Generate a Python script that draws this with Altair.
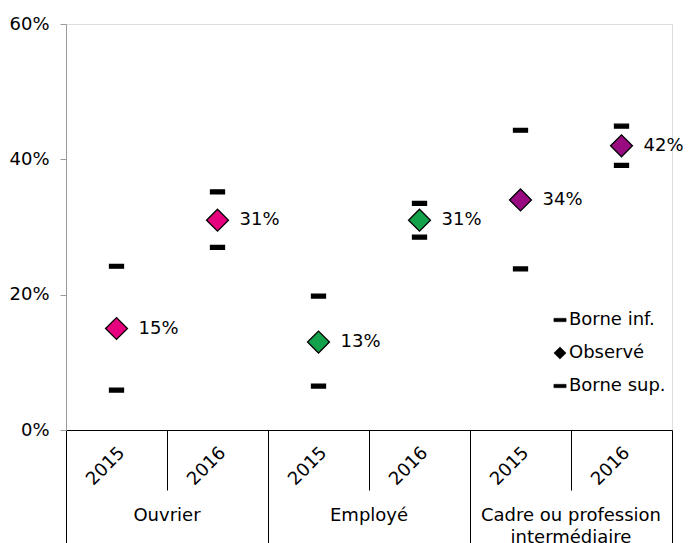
import altair as alt
import pandas as pd

groups = ["Ouvrier", "Employé", "Cadre ou profession\nintermédiaire"]
years = ["2015", "2016"]
observed = [15, 31, 13, 31, 34, 42]
lower = [5.9, 27.0, 6.5, 28.5, 23.8, 39.1]
upper = [24.2, 35.2, 19.8, 33.5, 44.3, 44.9]
group_colors = ["#E6007E", "#13A24B", "#990B80"]
series_names = ["Borne inf.", "Observé", "Borne sup."]
y_ticks = [0, 20, 40, 60]

FONT = "DejaVu Sans"
FS = 18

rows = []
for i, v in enumerate(observed):
    g = groups[i // 2]
    y = years[i % 2]
    pos = i + 0.5
    rows.append({"pos": pos, "group": g, "year": y, "serie": "Borne inf.", "value": upper[i], "ckey": "bound", "label": ""})
    rows.append({"pos": pos, "group": g, "year": y, "serie": "Borne sup.", "value": lower[i], "ckey": "bound", "label": ""})
    rows.append({"pos": pos, "group": g, "year": y, "serie": "Observé", "value": v, "ckey": g, "label": f"{v}%"})
df = pd.DataFrame(rows)

obs_df = df[df["serie"] == "Observé"]
years_df = pd.DataFrame({"pos": [i + 0.5 for i in range(6)], "year": [years[i % 2] for i in range(6)]})
groups_df = pd.DataFrame({"pos": [1.0, 3.0, 5.0], "group": groups})

bar_path = "M-1,-0.28H1V0.28H-1Z"

x_scale = alt.Scale(domain=[0, 6], nice=False, zero=False)
y_scale = alt.Scale(domain=[0, 60], nice=False)

x_enc = alt.X("pos:Q", scale=x_scale,
              axis=alt.Axis(values=list(range(7)), labels=False, title=None, grid=False,
                            domainColor="black", domainWidth=1.2, tickColor="black", tickWidth=1,
                            tickSize=alt.condition("datum.value % 2 == 0", alt.value(113), alt.value(60))))
y_enc = alt.Y("value:Q", scale=y_scale,
              axis=alt.Axis(values=y_ticks, title=None, grid=False, domainColor="#9a9a9a",
                            tickColor="#9a9a9a", tickSize=6, labelExpr="datum.value + '%'",
                            labelFont=FONT, labelFontSize=FS, labelColor="black", labelPadding=11))

points = alt.Chart(df).mark_point(filled=True, stroke="black", strokeWidth=1.3, opacity=1).encode(
    x=x_enc,
    y=y_enc,
    shape=alt.Shape("serie:N", scale=alt.Scale(domain=series_names, range=[bar_path, "diamond", bar_path]),
                    legend=alt.Legend(title=None, orient="none", legendX=485, legendY=287,
                                      labelFont=FONT, labelFontSize=FS, labelColor="black",
                                      symbolSize=150, symbolFillColor="black", symbolStrokeColor="black",
                                      symbolStrokeWidth=0.5, rowPadding=15, labelOffset=0, padding=0)),
    color=alt.Color("ckey:N", scale=alt.Scale(domain=["bound"] + groups, range=["black"] + group_colors), legend=None),
    size=alt.condition("datum.serie == 'Observé'", alt.value(480), alt.value(196)),
)

labels = alt.Chart(obs_df).mark_text(align="left", baseline="middle", dx=22, font=FONT, fontSize=FS, color="black").encode(
    x=alt.X("pos:Q", scale=x_scale),
    y=alt.Y("value:Q", scale=y_scale),
    text="label:N",
)

year_text = alt.Chart(years_df).mark_text(align="right", baseline="middle", angle=315, font=FONT, fontSize=FS,
                                          color="black", dx=8).encode(
    x=alt.X("pos:Q", scale=x_scale),
    y=alt.value(432),
    text="year:N",
)

group_text = alt.Chart(groups_df).mark_text(align="center", baseline="top", font=FONT, fontSize=FS, color="black",
                                            lineBreak="\n", lineHeight=22).encode(
    x=alt.X("pos:Q", scale=x_scale),
    y=alt.value(483),
    text="group:N",
)

chart = alt.layer(points, labels, year_text, group_text).properties(
    width=606, height=406,
    autosize=alt.AutoSizeParams(type="none"),
    padding={"left": 58, "top": 16, "right": 13, "bottom": 113},
).configure_view(stroke=None).configure(background="white")

chart.save("out.html", embed_options={"renderer": "svg", "actions": False})
